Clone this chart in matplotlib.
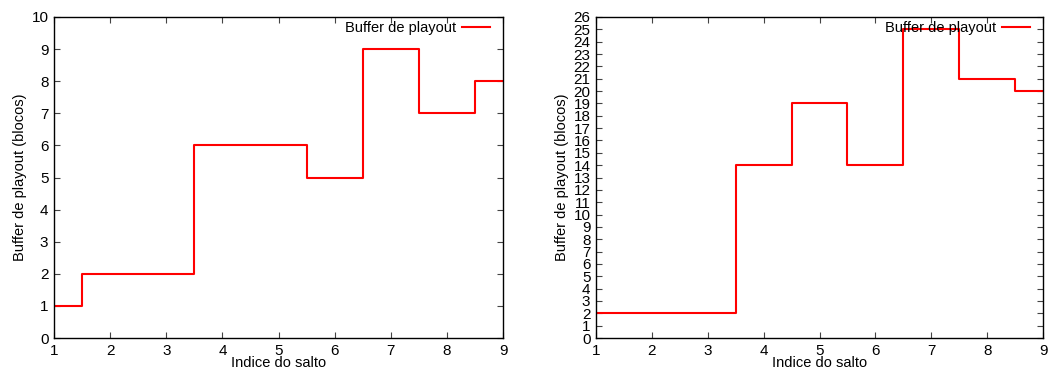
import matplotlib
matplotlib.use("Agg")
import matplotlib.pyplot as plt
import numpy as np

plt.rcParams['font.family'] = ['Liberation Sans', 'DejaVu Sans']
plt.rcParams['font.size'] = 10.5

# buffer size per hop index, two runs
saltos = [1, 2, 3, 4, 5, 6, 7, 8, 9]
buffer_a = [1, 2, 2, 6, 6, 5, 9, 7, 8]
buffer_b = [2, 2, 2, 14, 19, 14, 25, 21, 20]

fig = plt.figure(figsize=(10.62, 3.72), dpi=100)
ax1 = fig.add_axes([54 / 1062, 34 / 372, 449 / 1062, 321 / 372])
ax2 = fig.add_axes([596 / 1062, 34 / 372, 447 / 1062, 321 / 372])


def draw(ax, x, y, ymax):
    ax.plot(x, y, drawstyle='steps-mid', color='#ff0000', lw=1.5,
            label='Buffer de playout')
    ax.set_xlim(1, 9)
    ax.set_ylim(0, ymax)
    ax.set_xticks(range(1, 10))
    ax.set_yticks(range(0, ymax + 1))
    ax.tick_params(direction='in', top=True, right=True, length=4,
                   width=0.8, color='#444444', labelsize=11, pad=4)
    for s in ax.spines.values():
        s.set_linewidth(1.0)
    ax.set_xlabel('Indice do salto', labelpad=-1)
    ax.set_ylabel('Buffer de playout (blocos)', labelpad=3)
    ax.legend(loc='upper right', bbox_to_anchor=(0.975, 0.993),
              frameon=False, markerfirst=False,
              handlelength=1.9, borderaxespad=0, borderpad=0.15,
              handletextpad=0.4, fontsize=10.5)


draw(ax1, saltos, buffer_a, 10)
draw(ax2, saltos, buffer_b, 26)

fig.savefig('out.png', dpi=100)
